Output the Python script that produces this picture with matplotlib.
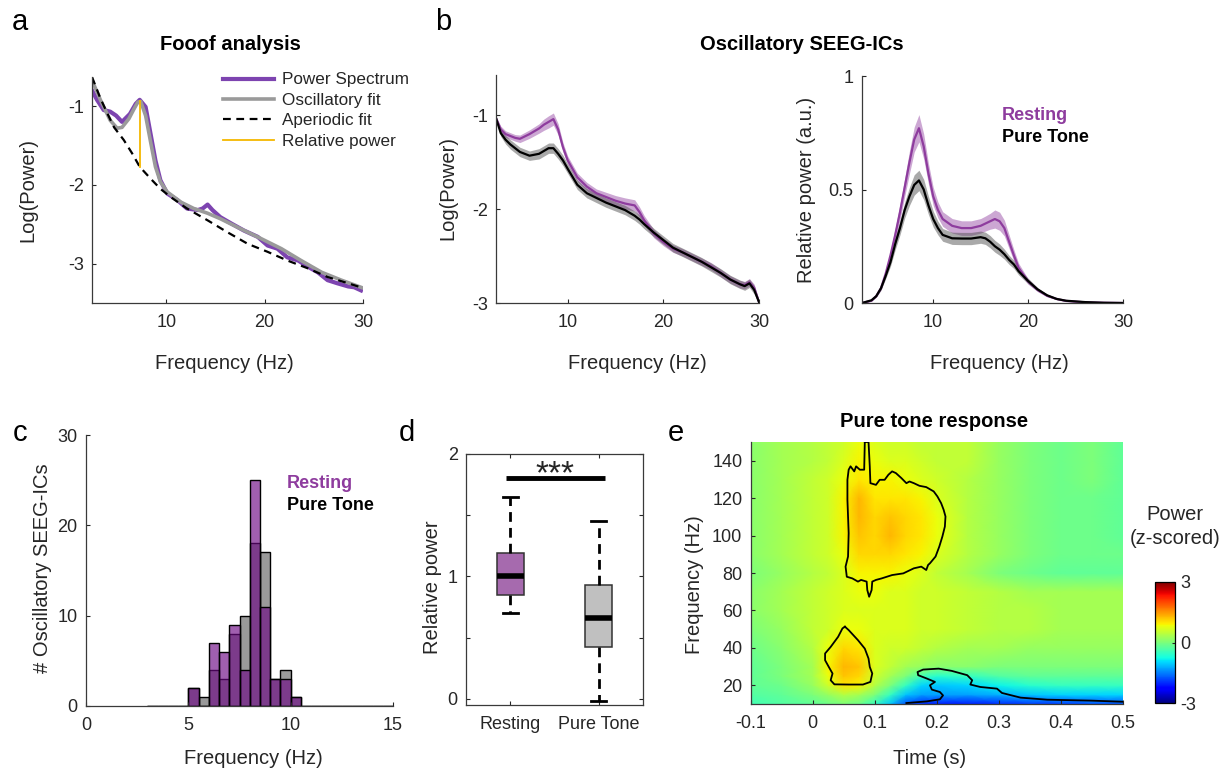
import numpy as np
import matplotlib
matplotlib.use("Agg")
import matplotlib.pyplot as plt

# ---------------- data ----------------
# Panel a : FOOOF example
fa_spec = [2.45, 2.96, 3.64, 4.3, 4.9, 5.5, 6.3, 6.9, 7.3, 7.9, 8.4, 8.9, 9.4, 10.1, 11.1, 12.1,
           13.2, 13.7, 14.2, 14.7, 15.5, 16.6, 17.9, 19.3, 20.3, 21.3, 22.3, 23.4, 24.4, 25.4,
           26.4, 27.4, 28.5, 29.1, 29.8]
pa_spec = [-0.80, -0.92, -1.05, -1.07, -1.12, -1.20, -1.10, -0.97, -0.92, -1.01, -1.35, -1.69,
           -1.94, -2.11, -2.19, -2.30, -2.32, -2.30, -2.25, -2.32, -2.41, -2.49, -2.58, -2.66,
           -2.77, -2.81, -2.92, -2.96, -3.04, -3.11, -3.21, -3.25, -3.29, -3.30, -3.34]
fa_osc = [2.45, 3.3, 4.3, 5.0, 5.5, 6.2, 6.7, 7.1, 7.4, 7.9, 8.4, 8.9, 9.4, 10.1, 11.5, 12.8,
          14.2, 15.5, 17.6, 19.6, 21.7, 23.7, 25.8, 27.8, 30.0]
pa_osc = [-0.67, -0.92, -1.18, -1.28, -1.27, -1.16, -1.04, -0.95, -0.94, -1.12, -1.45, -1.77,
          -1.96, -2.09, -2.22, -2.30, -2.36, -2.43, -2.56, -2.68, -2.81, -2.96, -3.11, -3.21, -3.31]
fa_ap = [2.45, 3.3, 4.0, 4.7, 5.68, 6.53, 7.3, 8.4, 9.4, 10.4, 12.1, 14.2, 16.2, 18.3, 20.3,
         22.3, 24.4, 26.4, 28.5, 30.0]
pa_ap = [-0.63, -0.90, -1.09, -1.27, -1.43, -1.60, -1.77, -1.92, -2.05, -2.15, -2.30, -2.45,
         -2.60, -2.75, -2.85, -2.96, -3.06, -3.17, -3.25, -3.31]
rel_f = 7.3
rel_top, rel_bot = -0.94, -1.77

# Panel b (left): log power, mean +/- sem
fb = [2.5, 3, 3.5, 4, 4.5, 5, 6, 7, 7.5, 8, 8.5, 9, 9.5, 10, 11, 12, 13, 14, 15, 16, 16.5, 17,
      17.5, 18, 19, 20, 21, 22, 23, 24, 25, 26, 27, 28, 28.5, 29, 29.5, 30]
logp_rest = [-1.03, -1.15, -1.20, -1.22, -1.24, -1.25, -1.20, -1.14, -1.10, -1.07, -1.04, -1.15,
             -1.34, -1.48, -1.66, -1.76, -1.83, -1.87, -1.91, -1.94, -1.95, -1.96, -2.03, -2.12,
             -2.26, -2.35, -2.42, -2.46, -2.51, -2.56, -2.61, -2.68, -2.75, -2.80, -2.81, -2.78,
             -2.84, -2.99]
logp_tone = [-1.03, -1.19, -1.26, -1.31, -1.35, -1.39, -1.43, -1.41, -1.38, -1.35, -1.35, -1.41,
             -1.48, -1.57, -1.74, -1.83, -1.88, -1.93, -1.97, -2.01, -2.04, -2.07, -2.11, -2.16,
             -2.25, -2.33, -2.41, -2.46, -2.51, -2.56, -2.62, -2.68, -2.75, -2.80, -2.82, -2.79,
             -2.86, -2.99]
sem_logp_rest = [0.02, 0.035, 0.035, 0.035, 0.035, 0.04, 0.045, 0.05, 0.06, 0.065, 0.065, 0.06,
                 0.05, 0.045, 0.045, 0.045, 0.045, 0.05, 0.055, 0.06, 0.06, 0.06, 0.055, 0.05,
                 0.045, 0.04, 0.04, 0.04, 0.04, 0.04, 0.04, 0.04, 0.04, 0.04, 0.04, 0.04,
                 0.04, 0.02]
sem_logp_tone = [0.02, 0.035, 0.045, 0.05, 0.05, 0.05, 0.05, 0.055, 0.055, 0.055, 0.055, 0.055,
                 0.055, 0.05, 0.05, 0.05, 0.05, 0.05, 0.05, 0.05, 0.05, 0.05, 0.05, 0.05, 0.045,
                 0.045, 0.045, 0.045, 0.045, 0.045, 0.045, 0.045, 0.045, 0.045, 0.045, 0.045,
                 0.045, 0.02]

# Panel b (right): relative power, mean +/- sem
fr = [2.5, 3.5, 4, 4.5, 5, 5.5, 6, 6.5, 7, 7.5, 8, 8.5, 9, 9.5, 10, 10.5, 11, 12, 13, 14, 15,
      15.5, 16, 16.5, 17, 17.5, 18, 18.5, 19, 20, 21, 22, 23, 24, 26, 28, 30]
relp_rest = [0.0, 0.01, 0.03, 0.065, 0.13, 0.21, 0.30, 0.40, 0.51, 0.62, 0.72, 0.77, 0.69, 0.57,
             0.47, 0.41, 0.37, 0.34, 0.33, 0.33, 0.34, 0.35, 0.36, 0.37, 0.36, 0.33, 0.27, 0.21,
             0.155, 0.095, 0.058, 0.032, 0.018, 0.009, 0.003, 0.001, 0.0]
relp_tone = [0.0, 0.012, 0.03, 0.065, 0.12, 0.18, 0.26, 0.33, 0.41, 0.47, 0.52, 0.54, 0.50, 0.43,
             0.37, 0.33, 0.30, 0.285, 0.284, 0.284, 0.29, 0.285, 0.27, 0.25, 0.235, 0.215, 0.19,
             0.17, 0.14, 0.097, 0.06, 0.034, 0.018, 0.01, 0.004, 0.001, 0.0]
sem_relp_rest = [0, 0.002, 0.004, 0.008, 0.015, 0.02, 0.03, 0.035, 0.04, 0.05, 0.055, 0.06, 0.055,
                 0.045, 0.04, 0.035, 0.032, 0.032, 0.032, 0.032, 0.032, 0.033, 0.035, 0.04, 0.04,
                 0.035, 0.03, 0.025, 0.02, 0.012, 0.008, 0.005, 0.003, 0.002, 0.001, 0, 0]
sem_relp_tone = [0, 0.002, 0.004, 0.008, 0.012, 0.018, 0.025, 0.03, 0.035, 0.04, 0.045, 0.045,
                 0.045, 0.04, 0.035, 0.03, 0.028, 0.027, 0.027, 0.027, 0.027, 0.027, 0.027, 0.026,
                 0.025, 0.022, 0.02, 0.018, 0.016, 0.012, 0.008, 0.005, 0.003, 0.002, 0.001, 0, 0]

# Panel c: peak-frequency histogram (bins 3..15 Hz, 0.5 Hz wide)
hist_lo, hist_hi, hist_w = 3.0, 15.0, 0.5
count_rest = [0, 0, 0, 0, 2, 0, 7, 6, 9, 4, 25, 11, 3, 3, 1, 0, 0, 0, 0, 0, 0, 0, 0, 0]
count_tone = [0, 0, 0, 0, 2, 1, 4, 3, 8, 10, 18, 17, 3, 4, 1, 0, 0, 0, 0, 0, 0, 0, 0, 0]

# Panel d: box plot of relative power
box_groups = ["Resting", "Pure Tone"]
box_whislo = [0.70, -0.02]
box_q1 = [0.85, 0.42]
box_med = [1.00, 0.66]
box_q3 = [1.19, 0.93]
box_whishi = [1.65, 1.45]

# Panel e: time-frequency map (z-scored power)
tf_time = [-0.1, -0.05, 0.0, 0.025, 0.05, 0.075, 0.1, 0.125, 0.15, 0.175, 0.2, 0.25, 0.3,
           0.35, 0.4, 0.45, 0.5]
tf_freq = [10, 15, 20, 25, 30, 40, 50, 60, 70, 80, 90, 100, 110, 120, 130, 140, 150]
tf_power = [
    [-0.4, -0.3, -0.2, -0.1, 0.0, -0.1, -0.5, -1.1, -1.8, -2.0, -2.1, -2.1, -2.0, -1.9, -1.9, -1.8, -1.8],
    [-0.3, -0.2, 0.0, 0.2, 0.4, 0.3, 0.0, -0.5, -1.1, -1.3, -1.3, -1.3, -1.2, -1.1, -1.0, -1.0, -1.0],
    [-0.2, -0.1, 0.2, 0.6, 1.0, 0.9, 0.4, 0.0, -0.5, -1.0, -1.1, -1.0, -0.8, -0.6, -0.5, -0.5, -0.5],
    [-0.2, 0.0, 0.3, 0.8, 1.2, 1.1, 0.6, 0.3, 0.0, -0.4, -0.6, -0.5, -0.3, -0.2, -0.2, -0.2, -0.2],
    [-0.2, 0.0, 0.3, 0.9, 1.3, 1.2, 0.7, 0.5, 0.3, 0.2, 0.1, 0.1, 0.0, 0.0, 0.0, 0.0, 0.0],
    [-0.1, 0.1, 0.4, 0.8, 1.1, 1.0, 0.7, 0.6, 0.6, 0.5, 0.4, 0.3, 0.3, 0.2, 0.2, 0.2, 0.2],
    [0.0, 0.2, 0.5, 0.6, 0.8, 0.8, 0.7, 0.7, 0.7, 0.6, 0.6, 0.5, 0.4, 0.4, 0.3, 0.3, 0.3],
    [0.1, 0.3, 0.5, 0.6, 0.7, 0.7, 0.7, 0.7, 0.7, 0.6, 0.6, 0.5, 0.4, 0.4, 0.3, 0.3, 0.3],
    [0.1, 0.3, 0.5, 0.6, 0.7, 0.8, 0.8, 0.7, 0.7, 0.6, 0.6, 0.5, 0.4, 0.3, 0.3, 0.3, 0.3],
    [0.0, 0.2, 0.4, 0.5, 0.7, 0.9, 0.9, 0.9, 0.8, 0.7, 0.5, 0.3, 0.0, -0.1, -0.2, -0.2, -0.2],
    [0.1, 0.3, 0.5, 0.6, 0.8, 1.1, 1.1, 1.1, 1.0, 0.9, 0.7, 0.4, 0.2, 0.0, -0.1, -0.1, -0.1],
    [0.1, 0.3, 0.5, 0.6, 0.9, 1.2, 1.1, 1.3, 1.1, 1.0, 0.8, 0.4, 0.2, 0.0, -0.1, -0.1, -0.2],
    [0.1, 0.3, 0.5, 0.6, 0.9, 1.3, 1.1, 1.2, 1.1, 1.0, 0.8, 0.4, 0.2, 0.0, -0.1, -0.1, -0.2],
    [0.1, 0.3, 0.5, 0.6, 0.9, 1.3, 1.0, 1.0, 1.0, 0.9, 0.7, 0.4, 0.2, 0.0, -0.1, -0.1, -0.2],
    [0.1, 0.3, 0.5, 0.6, 0.8, 1.0, 0.9, 0.9, 0.8, 0.7, 0.6, 0.4, 0.2, 0.0, -0.1, 0.0, -0.2],
    [0.1, 0.3, 0.4, 0.5, 0.7, 0.9, 0.8, 0.7, 0.7, 0.6, 0.5, 0.5, 0.2, 0.0, -0.1, 0.0, -0.2],
    [0.1, 0.3, 0.4, 0.5, 0.6, 0.8, 0.7, 0.6, 0.6, 0.5, 0.5, 0.5, 0.2, 0.0, -0.1, 0.0, -0.2],
]
# significant-cluster outlines (time s, freq Hz)
hg_t = [0.084, 0.090, 0.092, 0.093, 0.102, 0.108, 0.116, 0.122, 0.128, 0.134, 0.143, 0.151,
        0.156, 0.163, 0.172, 0.183, 0.195, 0.201, 0.207, 0.211, 0.214, 0.213, 0.209, 0.204,
        0.198, 0.189, 0.186, 0.183, 0.175, 0.163, 0.146, 0.128, 0.111, 0.102, 0.096, 0.095,
        0.091, 0.088, 0.087, 0.078, 0.073, 0.064, 0.055, 0.053, 0.057, 0.058, 0.056, 0.056,
        0.058, 0.061, 0.067, 0.070, 0.076, 0.083, 0.084]
hg_f = [150.0, 150.0, 137.0, 128.0, 127.1, 129.8, 129.8, 132.5, 134.3, 133.4, 130.7, 128.0,
        128.9, 128.0, 126.6, 125.9, 123.6, 120.9, 117.3, 113.8, 110.2, 104.8, 99.5, 94.1,
        88.8, 85.2, 84.3, 81.6, 83.4, 82.5, 79.8, 78.9, 77.1, 76.3, 75.4, 70.9, 67.3, 70.9,
        75.4, 76.3, 75.4, 77.1, 78.0, 83.4, 88.8, 101.3, 119.1, 129.8, 135.2, 137.0, 134.3,
        137.0, 135.2, 135.2, 150.0]
lg_t = [0.052, 0.058, 0.073, 0.084, 0.090, 0.092, 0.096, 0.093, 0.081, 0.058, 0.035, 0.029,
        0.032, 0.026, 0.020, 0.020, 0.029, 0.041, 0.048, 0.052]
lg_f = [51.3, 49.5, 44.1, 39.6, 34.3, 29.8, 26.3, 21.8, 20.4, 20.4, 20.5, 22.7, 26.3, 29.8,
        33.4, 37.0, 40.5, 45.9, 50.4, 51.3]
lo_t = [0.151, 0.184, 0.205, 0.210, 0.205, 0.192, 0.189, 0.197, 0.184, 0.170, 0.169, 0.178,
        0.203, 0.224, 0.249, 0.257, 0.254, 0.270, 0.297, 0.305, 0.335, 0.378, 0.449, 0.5]
lo_f = [10.5, 11.4, 12.5, 14.6, 16.4, 17.7, 20.0, 21.8, 23.6, 25.4, 27.1, 28.4, 28.9, 27.7,
        25.4, 22.7, 20.4, 19.1, 18.2, 15.9, 13.4, 12.3, 11.8, 11.2]

# ---------------- style ----------------
plt.rcParams["font.family"] = ["Liberation Sans", "DejaVu Sans"]
TXT = "#262626"
plt.rcParams.update({
    "text.color": TXT, "axes.labelcolor": TXT, "xtick.color": TXT, "ytick.color": TXT,
    "axes.edgecolor": "#3a3a3a", "axes.linewidth": 0.9,
    "xtick.direction": "in", "ytick.direction": "in",
    "xtick.major.size": 3.2, "ytick.major.size": 3.2,
    "xtick.major.width": 0.8, "ytick.major.width": 0.8,
    "xtick.major.pad": 8, "ytick.major.pad": 6,
    "xtick.labelsize": 13, "ytick.labelsize": 13, "axes.labelsize": 14.5,
    "axes.unicode_minus": False,
})

PURPLE_A = "#7D44B0"
PURPLE = "#8E3C9E"
GRAYLINE = "#9a9a9a"

W, H = 1228, 772
fig = plt.figure(figsize=(W / 100, H / 100), dpi=100)


def rect(l, t, r, b):
    return [l / W, 1 - b / H, (r - l) / W, (b - t) / H]


def xlabel_at(ax, box, text, px, py):
    ax.set_xlabel(text)
    l, t, r, b = box
    ax.xaxis.set_label_coords((px - l) / (r - l), (b - py) / (b - t))
    ax.xaxis.label.set_verticalalignment("center")


def ylabel_at(ax, box, text, px, py):
    ax.set_ylabel(text)
    l, t, r, b = box
    ax.yaxis.set_label_coords((px - l) / (r - l), (b - py) / (b - t))
    ax.yaxis.label.set_verticalalignment("center")


def ftext(px, py, s, **kw):
    kw.setdefault("ha", "center")
    kw.setdefault("va", "center")
    fig.text(px / W, 1 - py / H, s, **kw)


def open_axes(ax):
    ax.spines["top"].set_visible(False)
    ax.spines["right"].set_visible(False)


# ---------------- panel a ----------------
box_a = (92, 77, 363, 303)
ax = fig.add_axes(rect(*box_a))
ax.plot(fa_spec, pa_spec, color=PURPLE_A, lw=3.0, label="Power Spectrum")
ax.plot(fa_osc, pa_osc, color=GRAYLINE, lw=2.6, label="Oscillatory fit")
ax.plot(fa_ap, pa_ap, color="k", lw=1.6, ls=(0, (3.5, 2.5)), label="Aperiodic fit")
ax.plot([rel_f, rel_f], [rel_top, rel_bot], color="#F5B800", lw=1.3, label="Relative power")
ax.set_xlim(2.45, 30)
ax.set_ylim(-3.5, -0.63)
ax.set_xticks([10, 20, 30])
ax.set_yticks([-3, -2, -1])
open_axes(ax)
ax.legend(loc="upper left", bbox_to_anchor=(0.483, 1.02), frameon=False, fontsize=12.3,
          handlelength=3.0, handletextpad=0.45, labelspacing=0.32, borderpad=0,
          borderaxespad=0)
xlabel_at(ax, box_a, "Frequency (Hz)", 224, 363)
ylabel_at(ax, box_a, "Log(Power)", 28, 190)
ftext(230, 45, "Fooof analysis", fontsize=14.5, weight="bold", color="k")

# ---------------- panel b left ----------------
box_b1 = (496, 75, 759, 303)
ax = fig.add_axes(rect(*box_b1))
fbx = np.array(fb)
for m, s, c, fc, al in [(logp_rest, sem_logp_rest, PURPLE, PURPLE, 0.45),
                        (logp_tone, sem_logp_tone, "k", "#555555", 0.5)]:
    m = np.array(m); s = np.array(s)
    ax.fill_between(fbx, m - s, m + s, color=fc, alpha=al, lw=0)
    ax.plot(fbx, m, color=c, lw=1.6)
ax.set_xlim(2.5, 30)
ax.set_ylim(-3, -0.57)
ax.set_xticks([10, 20, 30])
ax.set_yticks([-3, -2, -1])
open_axes(ax)
xlabel_at(ax, box_b1, "Frequency (Hz)", 637, 363)
ylabel_at(ax, box_b1, "Log(Power)", 448, 188)

# ---------------- panel b right ----------------
box_b2 = (862, 76, 1123, 303)
ax = fig.add_axes(rect(*box_b2))
frx = np.array(fr)
for m, s, c, fc, al in [(relp_rest, sem_relp_rest, PURPLE, PURPLE, 0.45),
                        (relp_tone, sem_relp_tone, "k", "#555555", 0.5)]:
    m = np.array(m); s = np.array(s)
    ax.fill_between(frx, m - s, m + s, color=fc, alpha=al, lw=0)
    ax.plot(frx, m, color=c, lw=1.6)
ax.set_xlim(2.5, 30)
ax.set_ylim(0, 1)
ax.set_xticks([10, 20, 30])
ax.set_yticks([0, 0.5, 1])
ax.set_yticklabels(["0", "0.5", "1"])
open_axes(ax)
xlabel_at(ax, box_b2, "Frequency (Hz)", 999, 363)
ylabel_at(ax, box_b2, "Relative power (a.u.)", 807, 190)
ftext(1002, 115, "Resting", ha="left", fontsize=13, weight="bold", color=PURPLE)
ftext(1002, 137, "Pure Tone", ha="left", fontsize=13, weight="bold", color="k")
ftext(802, 45, "Oscillatory SEEG-ICs", fontsize=14.5, weight="bold", color="k")

# ---------------- panel c ----------------
box_c = (86, 435, 393, 706)
ax = fig.add_axes(rect(*box_c))
edges = np.arange(hist_lo, hist_hi, hist_w)
ax.bar(edges, count_tone, width=hist_w, align="edge",
       color=(100 / 255, 100 / 255, 100 / 255, 0.65), edgecolor="k", lw=1.0)
ax.bar(edges, count_rest, width=hist_w, align="edge",
       color=(109 / 255, 9 / 255, 132 / 255, 0.65), edgecolor="k", lw=1.0)
ax.set_xlim(0, 15)
ax.set_ylim(0, 30)
ax.set_xticks([0, 5, 10, 15])
ax.set_yticks([0, 10, 20, 30])
open_axes(ax)
xlabel_at(ax, box_c, "Frequency (Hz)", 253, 758)
ylabel_at(ax, box_c, "# Oscillatory SEEG-ICs", 43, 568)
ftext(287, 483, "Resting", ha="left", fontsize=13, weight="bold", color=PURPLE)
ftext(287, 505, "Pure Tone", ha="left", fontsize=13, weight="bold", color="k")

# ---------------- panel d ----------------
box_d = (466, 454, 643, 705)
ax = fig.add_axes(rect(*box_d))
stats = [dict(label=g, whislo=a, q1=b, med=c, q3=d, whishi=e, fliers=[])
         for g, a, b, c, d, e in zip(box_groups, box_whislo, box_q1, box_med, box_q3, box_whishi)]
bp = ax.bxp(stats, positions=[1, 2], widths=0.3, patch_artist=True, showfliers=False,
            capwidths=0.17,
            boxprops=dict(edgecolor="#333333", lw=1.1),
            whiskerprops=dict(color="k", lw=2.0, ls=(0, (3.5, 2.2))),
            capprops=dict(color="k", lw=2.0),
            medianprops=dict(color="k", lw=4.0))
for patch, fcol in zip(bp["boxes"], ["#A66AAE", "#C0C0C0"]):
    patch.set_facecolor(fcol)
ax.plot([0.95, 2.07], [1.80, 1.80], color="k", lw=3.5, solid_capstyle="butt")
ax.text(1.5, 1.76, "***", ha="center", va="baseline", fontsize=24, color=TXT)
ax.set_xlim(0.5, 2.5)
ax.set_ylim(-0.05, 2.0)
ax.set_yticks([0, 0.5, 1, 1.5, 2])
ax.set_yticklabels(["0", "", "1", "", "2"])
ax.tick_params(top=True, right=True)
ylabel_at(ax, box_d, "Relative power", 432, 587)

# ---------------- panel e ----------------
box_e = (750.6, 442, 1123, 704)
ax = fig.add_axes(rect(*box_e))
mesh = ax.pcolormesh(np.array(tf_time), np.array(tf_freq), np.array(tf_power),
                     shading="gouraud", cmap="jet", vmin=-3, vmax=3, rasterized=True)
ax.plot(hg_t, hg_f, color="k", lw=1.3)
ax.plot(lg_t, lg_f, color="k", lw=1.3)
ax.plot(lo_t, lo_f, color="k", lw=1.3)
ax.set_xlim(-0.1, 0.5)
ax.set_ylim(10, 150)
ax.set_xticks([-0.1, 0, 0.1, 0.2, 0.3, 0.4, 0.5])
ax.set_xticklabels(["-0.1", "0", "0.1", "0.2", "0.3", "0.4", "0.5"])
ax.set_yticks([20, 40, 60, 80, 100, 120, 140])
open_axes(ax)
xlabel_at(ax, box_e, "Time (s)", 930, 758)
ylabel_at(ax, box_e, "Frequency (Hz)", 694, 585)
ftext(934, 421, "Pure tone response", fontsize=14.5, weight="bold", color="k")

cax = fig.add_axes(rect(1154.6, 582, 1174.5, 703))
cb = fig.colorbar(mesh, cax=cax, ticks=[-3, 0, 3])
cb.ax.set_yticklabels(["-3", "0", "3"])
cb.ax.tick_params(direction="in", length=2.5, labelsize=13, pad=4)
cb.outline.set_linewidth(0.9)
cb.outline.set_edgecolor("k")
ftext(1175, 515, "Power", fontsize=14.5)
ftext(1175, 538, "(z-scored)", fontsize=14.5)

# ---------------- panel letters ----------------
for s, (px, py) in {"a": (20, 22), "b": (443, 22), "c": (20, 433),
                    "d": (407, 433), "e": (676, 433)}.items():
    ftext(px, py, s, fontsize=21, color="k")

fig.savefig("out.png", dpi=100)
